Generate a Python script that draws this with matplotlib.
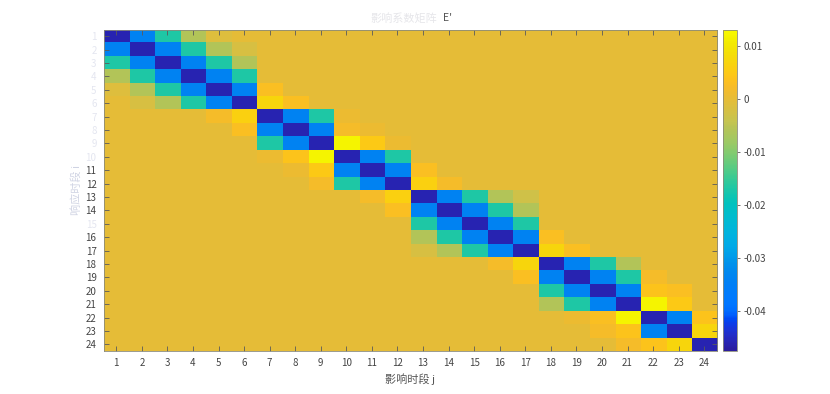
import numpy as np
import matplotlib
matplotlib.use("Agg")
import matplotlib.pyplot as plt
from matplotlib.colors import LinearSegmentedColormap, rgb_to_hsv, hsv_to_rgb

plt.rcParams['font.family'] = ['Noto Sans CJK SC', 'DejaVu Sans']

# ---------------- data (values in units of 0.001) ----------------
periods = list(range(1, 25))
row_labels = [str(i) for i in periods]
col_labels = [str(j) for j in periods]
faint_rows = [1, 2, 3, 4, 5, 6, 7, 8, 9, 10, 15]

E_milli = [
    # 1    2    3    4    5    6    7    8    9   10   11   12   13   14   15   16   17   18   19   20   21   22   23   24
    [-46, -34, -17,  -6,  -1,   0,   0,   0,   0,   0,   0,   0,   0,   0,   0,   0,   0,   0,   0,   0,   0,   0,   0,   0],  # 1
    [-34, -46, -34, -17,  -6,  -2,   0,   0,   0,   0,   0,   0,   0,   0,   0,   0,   0,   0,   0,   0,   0,   0,   0,   0],  # 2
    [-17, -34, -46, -34, -17,  -6,   0,   0,   0,   0,   0,   0,   0,   0,   0,   0,   0,   0,   0,   0,   0,   0,   0,   0],  # 3
    [ -6, -17, -34, -46, -34, -17,   0,   0,   0,   0,   0,   0,   0,   0,   0,   0,   0,   0,   0,   0,   0,   0,   0,   0],  # 4
    [ -1,  -6, -17, -34, -46, -34,   3,   0,   0,   0,   0,   0,   0,   0,   0,   0,   0,   0,   0,   0,   0,   0,   0,   0],  # 5
    [  0,  -2,  -6, -17, -34, -46,   7,   3,   0,   0,   0,   0,   0,   0,   0,   0,   0,   0,   0,   0,   0,   0,   0,   0],  # 6
    [  0,   0,   0,   0,   2,   6, -46, -34, -17,   1,   0,   0,   0,   0,   0,   0,   0,   0,   0,   0,   0,   0,   0,   0],  # 7
    [  0,   0,   0,   0,   0,   3, -34, -46, -34,   2,   1,   0,   0,   0,   0,   0,   0,   0,   0,   0,   0,   0,   0,   0],  # 8
    [  0,   0,   0,   0,   0,   0, -17, -34, -46,  12,   5,   1,   0,   0,   0,   0,   0,   0,   0,   0,   0,   0,   0,   0],  # 9
    [  0,   0,   0,   0,   0,   0,   1,   4,  12, -46, -34, -17,   0,   0,   0,   0,   0,   0,   0,   0,   0,   0,   0,   0],  # 10
    [  0,   0,   0,   0,   0,   0,   0,   1,   5, -34, -46, -34,   3,   0,   0,   0,   0,   0,   0,   0,   0,   0,   0,   0],  # 11
    [  0,   0,   0,   0,   0,   0,   0,   0,   2, -17, -34, -46,   6,   2,   0,   0,   0,   0,   0,   0,   0,   0,   0,   0],  # 12
    [  0,   0,   0,   0,   0,   0,   0,   0,   0,   0,   2,   6, -46, -34, -17,  -6,  -3,   0,   0,   0,   0,   0,   0,   0],  # 13
    [  0,   0,   0,   0,   0,   0,   0,   0,   0,   0,   0,   3, -34, -46, -34, -17,  -6,   0,   0,   0,   0,   0,   0,   0],  # 14
    [  0,   0,   0,   0,   0,   0,   0,   0,   0,   0,   0,   0, -17, -34, -46, -34, -17,   0,   0,   0,   0,   0,   0,   0],  # 15
    [  0,   0,   0,   0,   0,   0,   0,   0,   0,   0,   0,   0,  -6, -17, -34, -46, -34,   3,   0,   0,   0,   0,   0,   0],  # 16
    [  0,   0,   0,   0,   0,   0,   0,   0,   0,   0,   0,   0,  -2,  -6, -17, -34, -46,   7,   3,   0,   0,   0,   0,   0],  # 17
    [  0,   0,   0,   0,   0,   0,   0,   0,   0,   0,   0,   0,   0,   0,   0,   2,   7, -46, -34, -17,  -6,   0,   0,   0],  # 18
    [  0,   0,   0,   0,   0,   0,   0,   0,   0,   0,   0,   0,   0,   0,   0,   0,   3, -34, -46, -34, -17,   2,   0,   0],  # 19
    [  0,   0,   0,   0,   0,   0,   0,   0,   0,   0,   0,   0,   0,   0,   0,   0,   0, -17, -34, -46, -34,   4,   3,   0],  # 20
    [  0,   0,   0,   0,   0,   0,   0,   0,   0,   0,   0,   0,   0,   0,   0,   0,   0,  -6, -17, -34, -46,  12,   5,   0],  # 21
    [  0,   0,   0,   0,   0,   0,   0,   0,   0,   0,   0,   0,   0,   0,   0,   0,   0,   0,   1,   3,  12, -46, -34,   4],  # 22
    [  0,   0,   0,   0,   0,   0,   0,   0,   0,   0,   0,   0,   0,   0,   0,   0,   0,   0,   0,   2,   4, -34, -46,   7],  # 23
    [  0,   0,   0,   0,   0,   0,   0,   0,   0,   0,   0,   0,   0,   0,   0,   0,   0,   0,   0,   0,   2,   4,   7, -46],  # 24
]
E = np.array(E_milli, dtype=float) / 1000.0

cbar_ticks = [-0.04, -0.03, -0.02, -0.01, 0, 0.01]
cbar_ticklabels = ['-0.04', '-0.03', '-0.02', '-0.01', '0', '0.01']
vmin, vmax = -0.0476, 0.0131

title_cn = "影响系数矩阵"
title_sym = "E'"
xlabel = "影响时段 j"
ylabel = "响应时段 i"

# ---------------- parula colormap (slightly more vivid, like the screenshot) ----------------
parula_data = [
    [0.2081, 0.1663, 0.5292], [0.2116, 0.1898, 0.5777], [0.2123, 0.2138, 0.6270], [0.2081, 0.2386, 0.6771],
    [0.1959, 0.2645, 0.7279], [0.1707, 0.2919, 0.7792], [0.1253, 0.3242, 0.8303], [0.0591, 0.3598, 0.8683],
    [0.0117, 0.3875, 0.8820], [0.0060, 0.4086, 0.8828], [0.0165, 0.4266, 0.8786], [0.0329, 0.4430, 0.8720],
    [0.0498, 0.4586, 0.8641], [0.0629, 0.4737, 0.8554], [0.0723, 0.4887, 0.8467], [0.0779, 0.5040, 0.8384],
    [0.0793, 0.5200, 0.8312], [0.0749, 0.5375, 0.8263], [0.0641, 0.5570, 0.8240], [0.0488, 0.5772, 0.8228],
    [0.0343, 0.5966, 0.8199], [0.0265, 0.6137, 0.8135], [0.0239, 0.6287, 0.8038], [0.0231, 0.6418, 0.7913],
    [0.0228, 0.6535, 0.7768], [0.0267, 0.6642, 0.7607], [0.0384, 0.6743, 0.7436], [0.0590, 0.6838, 0.7254],
    [0.0843, 0.6928, 0.7062], [0.1133, 0.7015, 0.6859], [0.1453, 0.7098, 0.6646], [0.1801, 0.7177, 0.6424],
    [0.2178, 0.7250, 0.6193], [0.2586, 0.7317, 0.5954], [0.3022, 0.7376, 0.5712], [0.3482, 0.7424, 0.5473],
    [0.3953, 0.7459, 0.5244], [0.4420, 0.7481, 0.5033], [0.4871, 0.7491, 0.4840], [0.5300, 0.7491, 0.4661],
    [0.5709, 0.7485, 0.4494], [0.6099, 0.7473, 0.4337], [0.6473, 0.7456, 0.4188], [0.6834, 0.7435, 0.4044],
    [0.7184, 0.7411, 0.3905], [0.7525, 0.7384, 0.3768], [0.7858, 0.7356, 0.3633], [0.8185, 0.7327, 0.3498],
    [0.8507, 0.7299, 0.3360], [0.8824, 0.7274, 0.3217], [0.9139, 0.7258, 0.3063], [0.9450, 0.7261, 0.2886],
    [0.9739, 0.7314, 0.2666], [0.9938, 0.7455, 0.2403], [0.9990, 0.7653, 0.2164], [0.9955, 0.7861, 0.1967],
    [0.9880, 0.8066, 0.1794], [0.9789, 0.8271, 0.1633], [0.9697, 0.8481, 0.1475], [0.9626, 0.8705, 0.1309],
    [0.9589, 0.8949, 0.1132], [0.9598, 0.9218, 0.0948], [0.9661, 0.9514, 0.0755], [0.9763, 0.9831, 0.0538],
]
hsv = rgb_to_hsv(np.array(parula_data))
pos = np.linspace(0, 1, len(parula_data))
upper = np.clip((pos - 0.65) / 0.35, 0, 1)          # 0 below 0.65, 1 at the top
hsv[:, 0] = hsv[:, 0] + 0.010 * 4 * upper * (1 - upper)   # nudge golds towards yellow, keep top yellow
hsv[:, 1] = np.clip(hsv[:, 1] * (1.2 - 0.08 * upper), 0, 1)
hsv[:, 2] = np.clip(hsv[:, 2] * (1.0 + 0.16 * (1 - pos)) * (1 - 0.03 * upper * (1 - upper) * 4), 0, 1)
parula = LinearSegmentedColormap.from_list('parula_vivid', hsv_to_rgb(hsv), N=256)

# ---------------- figure ----------------
fig = plt.figure(figsize=(8.30, 3.94), dpi=100)
ax = fig.add_axes([103.5 / 830, 43 / 394, 613.5 / 830, 321.5 / 394])
cax = fig.add_axes([723 / 830, 43 / 394, 14 / 830, 321.5 / 394])

im = ax.imshow(E, cmap=parula, vmin=vmin, vmax=vmax, aspect='auto',
               interpolation='nearest',
               extent=[0.5, len(col_labels) + 0.5, len(row_labels) + 0.5, 0.5])

ax.set_xticks(periods)
ax.set_xticklabels(col_labels)
ax.set_yticks(periods)
ax.set_yticklabels(row_labels)
ax.tick_params(axis='both', direction='in', length=3.5, width=0.6, color='#5a5a5a',
               labelsize=7, labelcolor='#444444', top=True, right=True, pad=5)
for lab, p in zip(ax.get_yticklabels(), periods):
    if p in faint_rows:
        lab.set_color('#e4e6f0')
for s in ax.spines.values():
    s.set_color('#8a8a7a')
    s.set_linewidth(0.6)

ax.set_xlabel(xlabel, fontsize=8, color='#555555', labelpad=4)
ax.set_ylabel(ylabel, fontsize=8, color='#cfd3e3', labelpad=3)

# title: faint (blurred-looking) Chinese part and visible symbol
fig.text(437 / 830, 1 - 18 / 394, title_cn, fontsize=8, color='#e6e6ea', ha='right', va='center')
fig.text(448 / 830, 1 - 18 / 394, title_sym, fontsize=7.5, color='#555555', ha='center', va='center')

cb = fig.colorbar(im, cax=cax, ticks=cbar_ticks)
cb.ax.set_yticklabels(cbar_ticklabels)
cb.ax.tick_params(direction='out', length=2.5, width=0.6, color='#5a5a5a',
                  labelsize=7, labelcolor='#444444', pad=2)
cb.outline.set_edgecolor('#8a8a7a')
cb.outline.set_linewidth(0.6)

fig.savefig('out.png', dpi=100)
